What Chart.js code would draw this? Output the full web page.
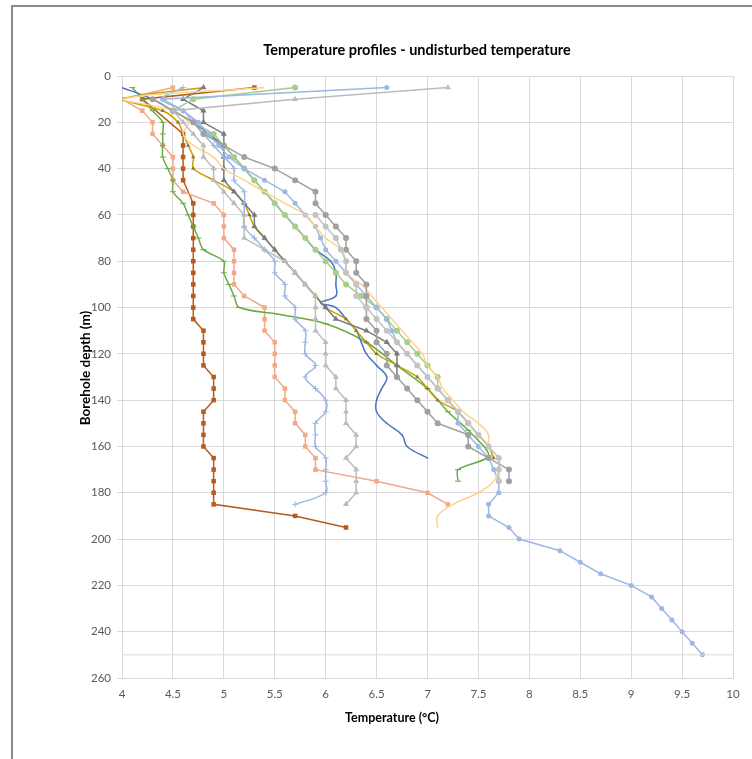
<!DOCTYPE html>
<html>
<head>
<meta charset="utf-8">
<script src="https://cdn.jsdelivr.net/npm/chart.js@4/dist/chart.umd.min.js"></script>
<style>
html,body{margin:0;padding:0;background:#fff;}
#wrap{position:absolute;left:0;top:0;width:752px;height:759px;}
#frame{position:absolute;left:11px;top:5px;width:760px;height:800px;border-left:2px solid #8a8a8a;border-top:2px solid #8a8a8a;pointer-events:none;}
canvas{position:absolute;left:0;top:0;}
</style>
</head>
<body>
<div id="wrap"><canvas id="c" width="752" height="759"></canvas><div id="frame"></div></div>
<script>
// ---- Data (depth in m, temperature in °C) ----
const xTicks = [4,4.5,5,5.5,6,6.5,7,7.5,8,8.5,9,9.5,10];
const yTicks = [0,20,40,60,80,100,120,140,160,180,200,220,240,260];

const brownDepth = [5,10,25,30,35,40,45,55,60,65,70,75,80,85,90,95,100,105,110,115,120,125,130,135,140,145,150,155,160,165,170,175,180,185,190,195];
const brownTemp  = [5.3,4.2,4.6,4.6,4.6,4.6,4.6,4.7,4.7,4.7,4.7,4.7,4.7,4.7,4.7,4.7,4.7,4.7,4.8,4.8,4.8,4.8,4.9,4.9,4.9,4.8,4.8,4.8,4.8,4.9,4.9,4.9,4.9,4.9,5.7,6.2];

const salmonDepth = [5,10,15,20,25,30,35,40,45,50,55,60,65,70,75,80,85,90,95,100,105,110,115,120,125,130,135,140,145,150,155,160,165,170,175,180,185];
const salmonTemp  = [4.5,4.0,4.2,4.3,4.3,4.4,4.5,4.5,4.5,4.6,4.9,5.0,5.0,5.0,5.1,5.1,5.1,5.1,5.2,5.4,5.4,5.4,5.5,5.5,5.5,5.5,5.6,5.6,5.7,5.7,5.8,5.8,5.9,5.9,6.5,7.0,7.2];

const longBlueDepth = [5,10,15,20,25,30,35,40,45,50,55,60,65,70,75,80,85,90,95,100,105,110,115,120,125,130,135,140,145,150,155,160,165,170,175,180,185,190,195,200,205,210,215,220,225,230,235,240,245,250];
const longBlueTemp  = [6.6,4.4,4.6,4.75,4.85,4.95,5.05,5.2,5.4,5.6,5.7,5.8,5.9,5.95,6.0,6.1,6.2,6.3,6.4,6.5,6.6,6.65,6.7,6.8,6.9,7.0,7.1,7.2,7.3,7.3,7.4,7.5,7.6,7.65,7.7,7.7,7.6,7.6,7.8,7.9,8.3,8.5,8.7,9.0,9.2,9.3,9.4,9.5,9.6,9.7];

const grayCircDepth = [10,15,20,25,30,35,40,45,50,55,60,65,70,75,80,85,90,95,100,105,110,115,120,125,130,135,140,145,150,155,160,165,170,175];
const grayCircTemp  = [4.3,4.5,4.7,4.8,5.0,5.2,5.5,5.7,5.9,5.9,6.0,6.1,6.2,6.2,6.3,6.3,6.4,6.4,6.4,6.4,6.5,6.5,6.6,6.6,6.7,6.8,6.9,7.0,7.1,7.4,7.4,7.6,7.8,7.8];

const silverCircDepth = [60,65,70,75,80,85,90,95,100,105,110,115,120,125,130,135,140,145,150,155,160,165,170,175];
const silverCircTemp  = [5.9,6.0,6.1,6.15,6.2,6.2,6.3,6.3,6.4,6.5,6.6,6.7,6.8,6.9,7.0,7.1,7.2,7.3,7.4,7.5,7.6,7.7,7.7,7.7];

const greenCircDepth = [5,10,15,20,25,30,35,40,45,50,55,60,65,70,75,80,85,90,95,100,105,110,115,120,125,130,135,140,145,150];
const greenCircTemp  = [5.7,4.7,4.5,4.7,4.9,5.0,5.1,5.2,5.3,5.4,5.5,5.6,5.7,5.8,5.9,6.0,6.1,6.2,6.35,6.5,6.6,6.7,6.8,6.9,7.0,7.1,7.1,7.2,7.3,7.4];

const lightTriDepth = [5,10,15,20,25,30,35,40,45,50,55,60,65,70,75,80,85,90,95,100,105,110,115,120,125,130,135,140,145,150,155,160,165,170,175,180,185];
const lightTriTemp  = [7.2,5.7,4.5,4.6,4.7,4.8,4.8,4.9,4.9,5.0,5.1,5.2,5.2,5.2,5.4,5.6,5.7,5.8,5.9,5.9,5.9,5.9,6.0,6.0,6.0,6.1,6.1,6.2,6.2,6.2,6.3,6.3,6.2,6.3,6.3,6.3,6.2];

const darkTriDepth = [5,10,15,20,25,30,35,40,45,50,55,60,65,70,75,80,85,90,95,100,105,110,115,120,125,130];
const darkTriTemp  = [4.8,4.6,4.8,4.8,5.0,5.0,5.0,5.0,5.0,5.1,5.2,5.3,5.3,5.4,5.5,5.6,5.7,5.8,5.9,6.0,6.1,6.4,6.6,6.7,6.7,6.7];

const goldDepth = [5,10,15,20,25,30,35,40,45,50,55,60,65,70,75,80,85,90,95,100,105,110,115,120,125,130,135,140,145,150,155,160,165];
const goldTemp  = [4.8,4.0,4.4,4.55,4.6,4.65,4.7,4.7,4.9,5.1,5.2,5.25,5.3,5.4,5.5,5.6,5.7,5.8,5.9,6.0,6.2,6.3,6.4,6.5,6.7,6.9,7.0,7.1,7.3,7.4,7.5,7.6,7.65];

const crossBlueDepth = [5,10,15,20,25,30,35,40,45,50,55,60,65,70,75,80,85,90,95,100,105,110,115,120,125,130,135,140,145,150,155,160,165,170,175,180,185];
const crossBlueTemp  = [4.6,4.4,4.6,4.7,4.8,4.9,5.0,5.1,5.1,5.2,5.2,5.2,5.2,5.3,5.4,5.5,5.5,5.6,5.6,5.7,5.7,5.8,5.8,5.8,5.9,5.8,5.9,6.0,6.0,5.9,5.9,5.9,6.0,6.0,6.0,6.0,5.7];

const blueLineDepth = [5,10,15,20,25,30,35,40,45,50,55,60,65,70,75,80,85,90,95,98,100,105,110,115,120,125,130,135,140,145,150,155,160,165];
const blueLineTemp  = [4.0,4.3,4.5,4.7,4.85,5.0,5.1,5.2,5.3,5.4,5.5,5.6,5.7,5.8,5.9,6.05,6.1,6.1,6.1,5.95,6.1,6.2,6.3,6.35,6.4,6.5,6.6,6.55,6.5,6.5,6.6,6.75,6.8,7.0];

const greenLineDepth = [5,10,15,20,25,30,35,40,45,50,55,60,65,70,75,80,85,90,95,100,103,107,115,125,135,145,153,164,170,175];
const greenLineTemp  = [4.1,4.2,4.3,4.4,4.4,4.4,4.4,4.45,4.5,4.5,4.6,4.65,4.7,4.75,4.8,5.0,5.0,5.05,5.1,5.15,5.55,6.0,6.4,6.7,7.0,7.2,7.4,7.6,7.3,7.3];

const paleOrangeDepth = [5,10,15,20,25,30,35,40,45,50,55,60,65,70,75,80,85,90,95,100,105,110,115,120,125,130,135,140,145,150,155,160,165,170,175,180,185,190,195];
const paleOrangeTemp  = [5.4,4.0,4.5,4.65,4.6,4.7,4.9,5.0,5.2,5.4,5.6,5.8,5.9,6.0,6.15,6.2,6.2,6.35,6.45,6.55,6.65,6.75,6.85,6.95,7.0,7.1,7.15,7.25,7.35,7.5,7.6,7.6,7.7,7.7,7.65,7.5,7.25,7.1,7.1];

const refLineDepth = [250,250];
const refLineTemp  = [4,10];

function pts(depth, temp){ return depth.map((d,i)=>({x:temp[i], y:d})); }

function ds(label, depth, temp, color, opts){
  return Object.assign({
    label: label,
    data: pts(depth, temp),
    borderColor: color,
    backgroundColor: color,
    borderWidth: 1.5,
    pointRadius: 2.5,
    pointStyle: 'circle',
    pointBorderWidth: 0,
    showLine: true,
    tension: 0
  }, opts || {});
}

const datasets = [
  ds('ref250', refLineDepth, refLineTemp, '#d9d9d9', {pointRadius:0, borderWidth:1}),
  ds('Silver circles', silverCircDepth, silverCircTemp, '#c3c3c3', {pointRadius:3}),
  ds('Light triangles', lightTriDepth, lightTriTemp, '#bcbcbc', {pointStyle:'triangle', pointRadius:3.5}),
  ds('Gray circles', grayCircDepth, grayCircTemp, '#a0a0a0', {pointRadius:3}),
  ds('Pale orange', paleOrangeDepth, paleOrangeTemp, '#ffd28c', {pointRadius:0, tension:0.4}),
  ds('Long blue', longBlueDepth, longBlueTemp, '#9db8e2', {pointRadius:2.5}),
  ds('Green circles', greenCircDepth, greenCircTemp, '#a5cf88', {pointRadius:3}),
  ds('Cross blue', crossBlueDepth, crossBlueTemp, '#9fb5e0', {pointStyle:'cross', pointRadius:3, pointBorderWidth:1, tension:0.4}),
  ds('Dark triangles', darkTriDepth, darkTriTemp, '#7a7a7a', {pointStyle:'triangle', pointRadius:3.5}),
  ds('Gold', goldDepth, goldTemp, '#c9a100', {pointStyle:'triangle', pointRadius:2.5, backgroundColor:'#8a7a3a', tension:0.3}),
  ds('Blue line', blueLineDepth, blueLineTemp, '#4a74c2', {pointRadius:0.8, tension:0.4}),
  ds('Green line', greenLineDepth, greenLineTemp, '#6aab44', {pointStyle:'line', pointRadius:3, pointBorderWidth:1, tension:0.3}),
  ds('Salmon squares', salmonDepth, salmonTemp, '#f2a987', {pointStyle:'rect', pointRadius:3.2}),
  ds('Brown squares', brownDepth, brownTemp, '#b85a1c', {pointStyle:'rect', pointRadius:3.2})
];

const textPlugin = {
  id: 'texts',
  afterDraw(chart){
    const ctx = chart.ctx;
    ctx.save();
    ctx.fillStyle = '#000';
    ctx.textAlign = 'center';
    ctx.textBaseline = 'middle';
    ctx.font = 'bold 14.5px Lato';
    ctx.fillText('Temperature profiles - undisturbed temperature', 417, 50);
    ctx.font = 'bold 12.5px Lato';
    ctx.fillText('Temperature (°C)', 392, 718);
    ctx.translate(86, 368);
    ctx.rotate(-Math.PI/2);
    ctx.font = 'bold 13.5px Lato';
    ctx.fillText('Borehole depth (m)', 0, 0);
    ctx.restore();
  }
};

new Chart(document.getElementById('c'), {
  type: 'scatter',
  data: { datasets: datasets },
  options: {
    responsive: false,
    animation: false,
    events: [],
    layout: { padding: { left: 0, right: 19, top: 76, bottom: 0 } },
    plugins: { legend: { display: false }, tooltip: { enabled: false }, title: { display: false } },
    scales: {
      x: {
        type: 'linear', min: 4, max: 10,
        afterBuildTicks(scale){ scale.ticks = xTicks.map(v=>({value:v})); },
        afterFit(scale){ scale.height = 81; },
        grid: { color: '#d9d9d9', lineWidth: 1, drawTicks: false },
        border: { color: '#d9d9d9' },
        ticks: { padding: 9, font: { family: 'Lato', size: 11.5 }, color: '#595959', maxRotation: 0,
                 callback: (v) => String(Number(v)) }
      },
      y: {
        type: 'linear', min: 0, max: 260, reverse: true,
        afterBuildTicks(scale){ scale.ticks = yTicks.map(v=>({value:v})); },
        afterFit(scale){ scale.width = 122; },
        grid: { color: '#d9d9d9', lineWidth: 1, drawTicks: true, tickLength: 5 },
        border: { color: '#d9d9d9' },
        ticks: { padding: 6, font: { family: 'Lato', size: 11.5 }, color: '#595959',
                 callback: (v) => String(Number(v)) }
      }
    }
  },
  plugins: [textPlugin]
});
</script>
</body>
</html>
